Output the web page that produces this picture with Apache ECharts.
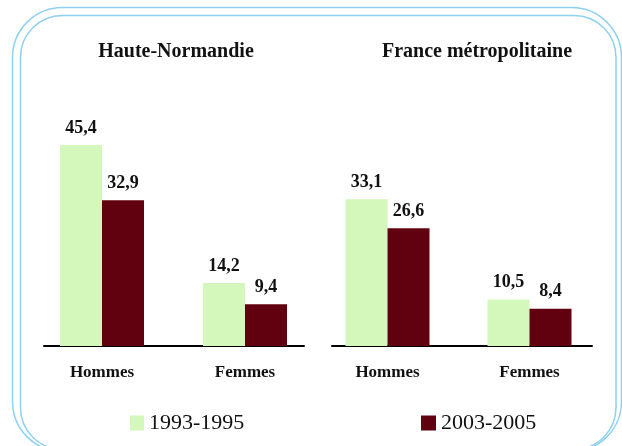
<!DOCTYPE html>
<html>
<head>
<meta charset="utf-8">
<script src="https://cdn.jsdelivr.net/npm/echarts@6/dist/echarts.min.js"></script>
<style>html,body{margin:0;padding:0;background:#fff;}#c{width:622px;height:446px;}</style>
</head>
<body>
<div id="c"></div>
<script>
const panels = ['Haute-Normandie', 'France métropolitaine'];
const categories = ['Hommes', 'Femmes'];
const seriesNames = ['1993-1995', '2003-2005'];
const hn1993 = [45.4, 14.2];
const hn2003 = [32.9, 9.4];
const fr1993 = [33.1, 10.5];
const fr2003 = [26.6, 8.4];

const GREEN = '#d4f7bb';
const RED = '#61000f';
const FONT = '"Liberation Serif", "DejaVu Serif", serif';

const chart = echarts.init(document.getElementById('c'));

const label = {
  show: true, position: 'top', distance: 8,
  fontFamily: FONT, fontWeight: 'bold', fontSize: 18, color: '#111',
  formatter: p => String(p.value).replace('.', ',')
};

function bar(name, data, idx, color) {
  return {
    name, type: 'bar', data, xAxisIndex: idx, yAxisIndex: idx,
    barWidth: 42, barGap: '0%', itemStyle: { color }, label,
    silent: true
  };
}

chart.setOption({
  animation: false,
  backgroundColor: '#fff',
  title: [
    { text: panels[0], left: 171, top: 37, textAlign: 'center',
      textStyle: { fontFamily: FONT, fontWeight: 'bold', fontSize: 20, color: '#111' } },
    { text: panels[1], left: 472, top: 37, textAlign: 'center',
      textStyle: { fontFamily: FONT, fontWeight: 'bold', fontSize: 20, color: '#111' } }
  ],
  legend: [
    { data: [seriesNames[0]], left: 125, top: 407, icon: 'rect', itemWidth: 14, itemHeight: 15, itemGap: 7,
      textStyle: { fontFamily: FONT, fontSize: 22, color: '#111' } },
    { data: [seriesNames[1]], left: 416, top: 407, icon: 'rect', itemWidth: 15, itemHeight: 15, itemGap: 6,
      textStyle: { fontFamily: FONT, fontSize: 22, color: '#111' } }
  ],
  grid: [
    { left: 30.5, width: 286, top: 124.5, height: 221.5 },
    { left: 316.5, width: 284, top: 124.5, height: 221.5 },
    { left: 44, width: 260, top: 124.5, height: 221.5 },
    { left: 332, width: 260, top: 124.5, height: 221.5 }
  ],
  xAxis: [0, 1, 2, 3].map(i => ({
    type: 'category', gridIndex: i,
    data: i < 2 ? categories : ['', ''],
    axisLine: { show: i >= 2, lineStyle: { color: '#000', width: 2 } },
    axisTick: { show: false },
    axisLabel: { show: i < 2, margin: 18, fontFamily: FONT, fontWeight: 'bold', fontSize: 17, color: '#111' }
  })),
  yAxis: [0, 1, 2, 3].map(i => ({
    type: 'value', gridIndex: i, min: 0, max: 50, show: false, splitLine: { show: false }
  })),
  series: [
    bar(seriesNames[0], hn1993, 0, GREEN),
    bar(seriesNames[1], hn2003, 0, RED),
    bar(seriesNames[0], fr1993, 1, GREEN),
    bar(seriesNames[1], fr2003, 1, RED)
  ],
  graphic: [
    { type: 'rect', shape: { x: 12.5, y: 7.5, width: 609, height: 444, r: 50 },
      style: { fill: 'none', stroke: '#8fd0ee', lineWidth: 1.5 }, silent: true },
    { type: 'rect', shape: { x: 20.5, y: 15.5, width: 595.5, height: 434, r: 42 },
      style: { fill: 'none', stroke: '#8fd0ee', lineWidth: 1.5 }, silent: true }
  ]
});
</script>
</body>
</html>
